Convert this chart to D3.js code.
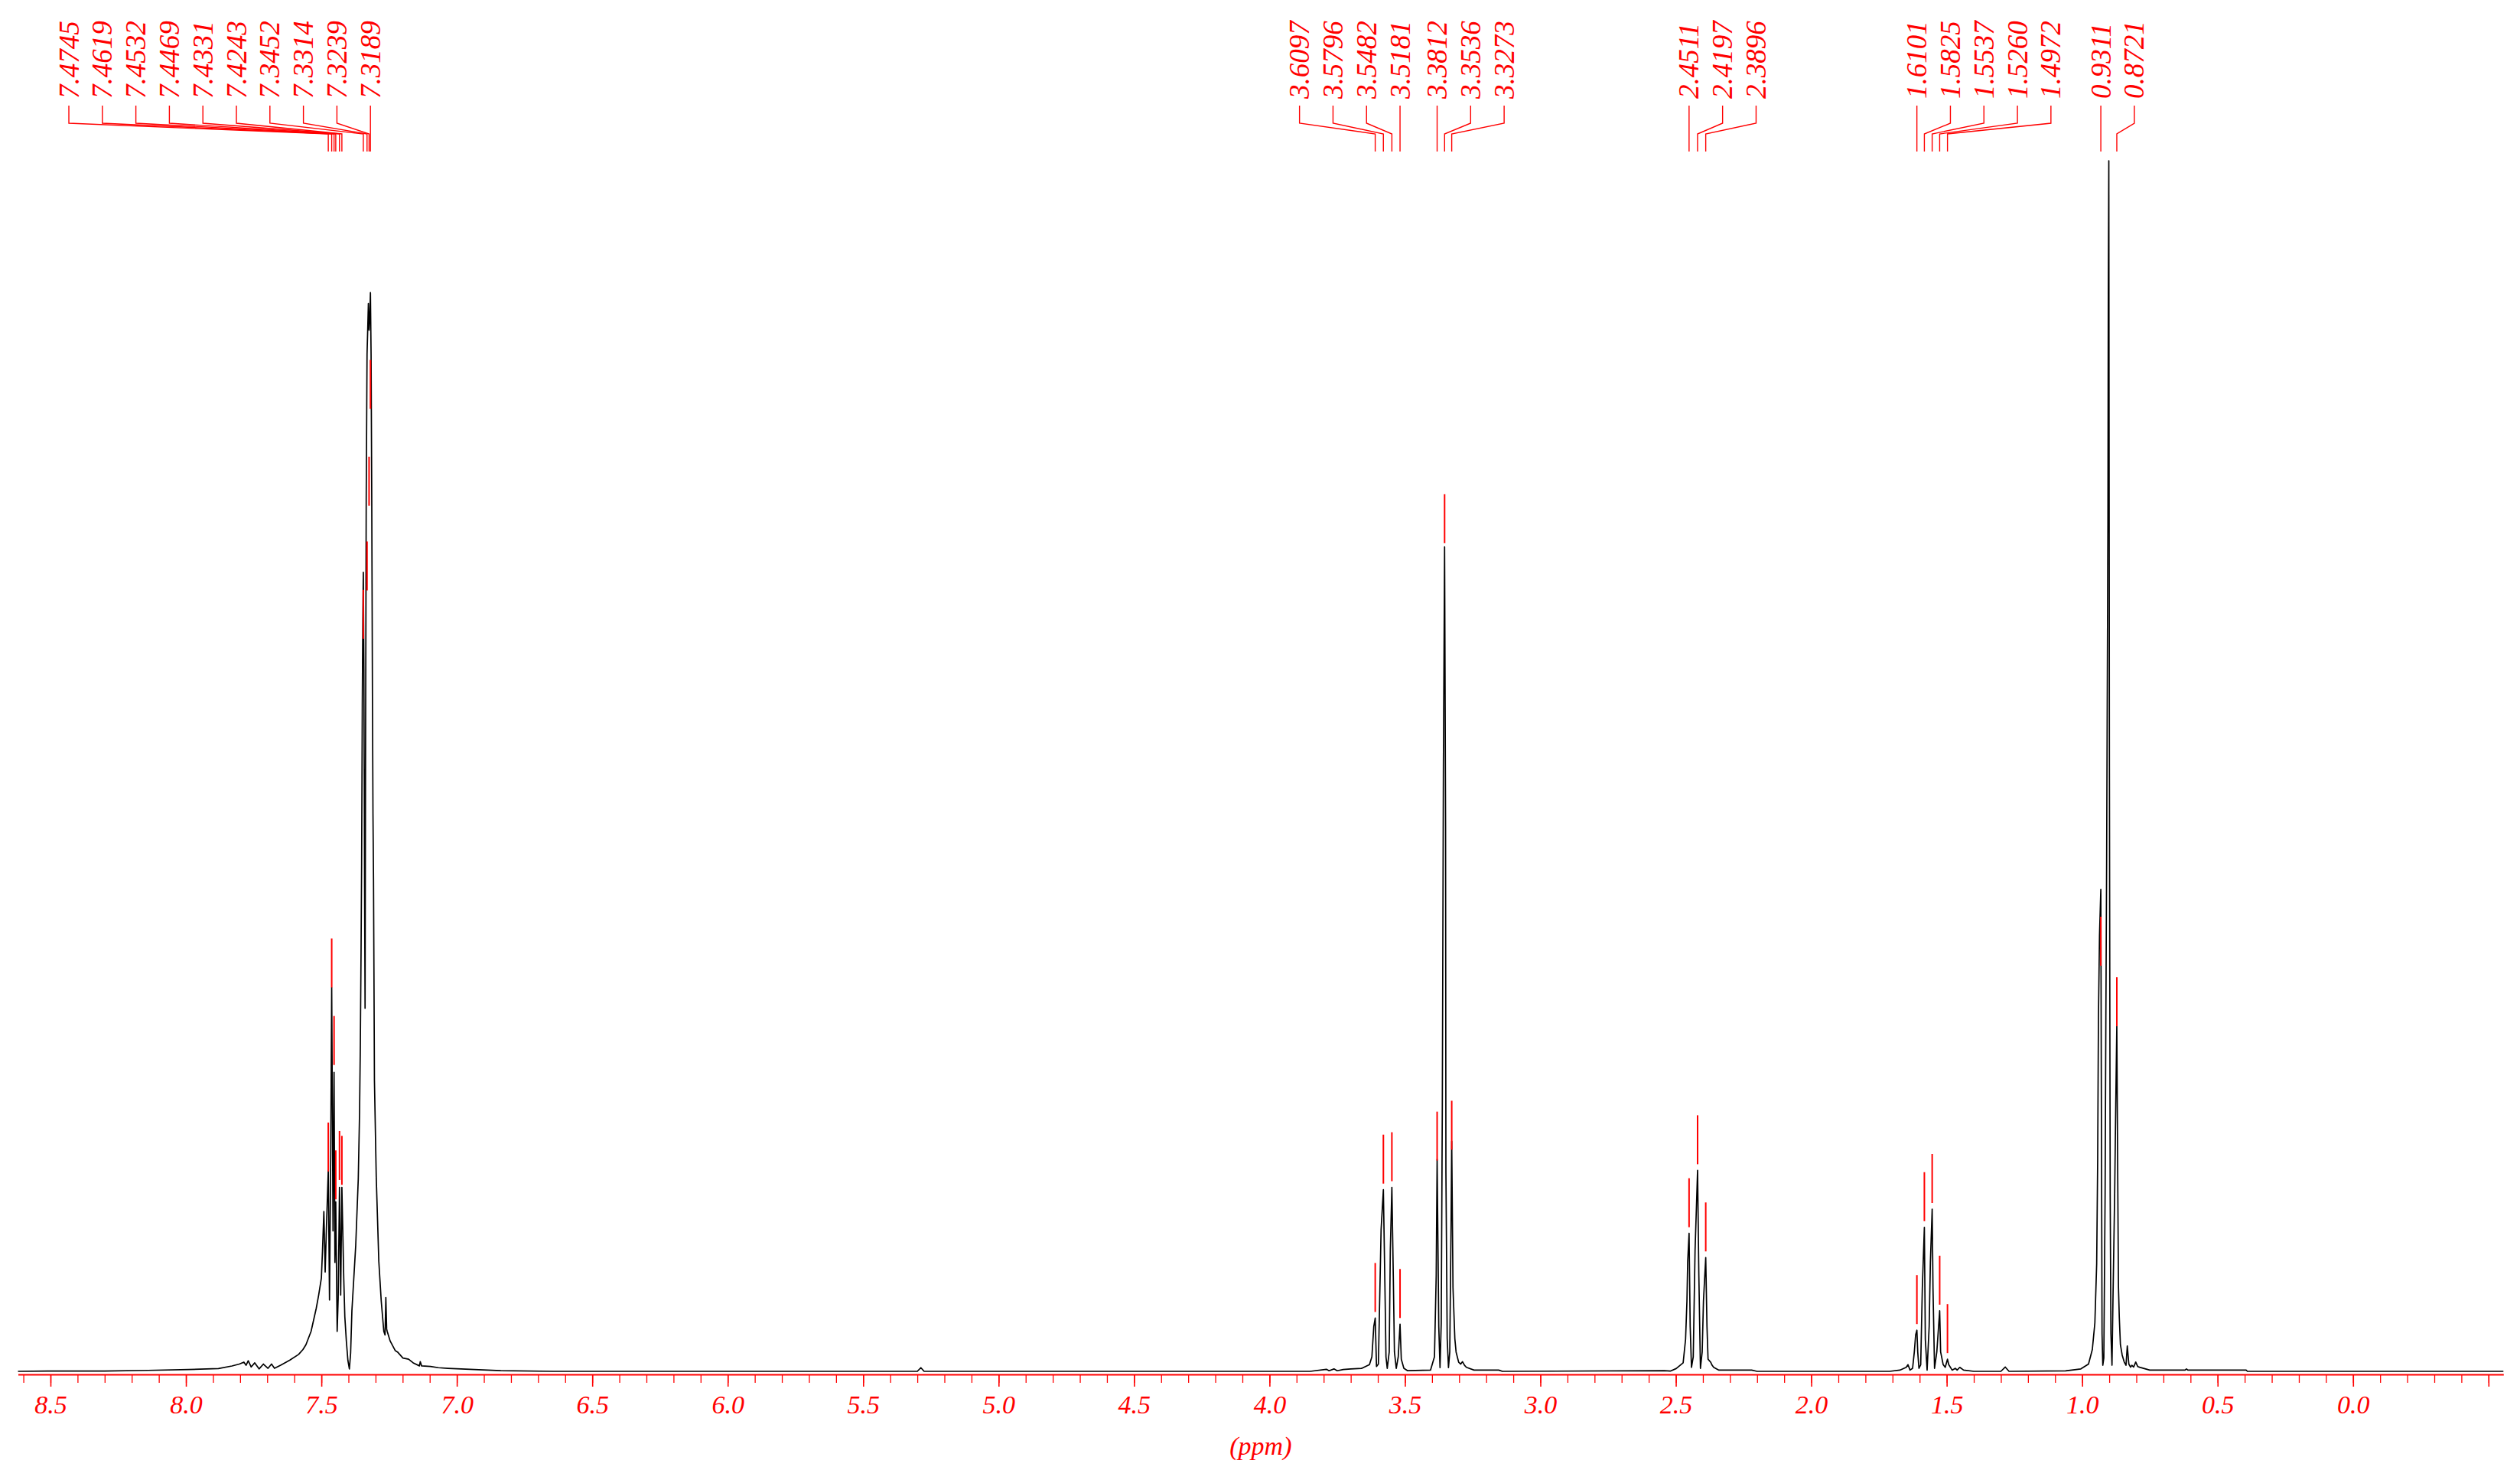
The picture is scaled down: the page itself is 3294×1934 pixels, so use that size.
<!DOCTYPE html>
<html>
<head>
<meta charset="utf-8">
<script src="https://cdn.jsdelivr.net/npm/d3@7"></script>
<style>
  body { margin: 0; background: #ffffff; }
  svg text { font-family: "Liberation Serif", "Times New Roman", serif; font-style: italic; fill: #ff0000; }
</style>
</head>
<body>
<div id="nmr"></div>
<script>
// spectrum trace: [ppm, intensity], tallest peak = 100
var aromaticTrace = [
  [8.62, 0], [8.51, 0.02], [8.30, 0.03], [8.14, 0.08], [7.99, 0.15], [7.88, 0.23],
  [7.83, 0.44], [7.803, 0.6], [7.786, 0.76], [7.778, 0.5], [7.770, 0.87], [7.759, 0.36],
  [7.746, 0.7], [7.730, 0.2], [7.714, 0.6], [7.697, 0.25], [7.684, 0.6], [7.673, 0.25],
  [7.649, 0.52], [7.616, 0.93], [7.584, 1.4], [7.568, 1.8], [7.557, 2.2], [7.538, 3.3],
  [7.519, 5.2], [7.510, 6.3], [7.500, 7.7], [7.496, 9.9], [7.4908, 13.2], [7.4860, 8.2],
  [7.4812, 12], [7.4745, 16.6], [7.4700, 5.9], [7.4654, 18], [7.4619, 31.7], [7.4570, 11.6],
  [7.4532, 24.7], [7.4500, 9], [7.4469, 14], [7.4417, 3.3], [7.4380, 6], [7.4331, 15.2],
  [7.4287, 6.3], [7.4243, 15.2], [7.4174, 7.7], [7.4134, 4.5], [7.4078, 2.5], [7.4021, 0.9],
  [7.3966, 0.2], [7.3920, 1.5], [7.3873, 5.0], [7.3732, 10.4], [7.3638, 15.9], [7.3590, 21.4],
  [7.3562, 26.9], [7.3534, 35], [7.3514, 42], [7.3490, 55], [7.3470, 62], [7.3452, 66],
  [7.3430, 58], [7.3405, 40], [7.3387, 30], [7.3370, 50], [7.3345, 72], [7.3314, 84],
  [7.3290, 86], [7.3265, 88.2], [7.3239, 86], [7.3215, 87], [7.3189, 89.1], [7.3165, 84],
  [7.3140, 72], [7.3115, 56], [7.3095, 46], [7.3075, 40.6], [7.3041, 24], [7.2974, 16],
  [7.2880, 9.1], [7.2790, 5.8], [7.2695, 3.3], [7.2650, 3.0], [7.2620, 6.1], [7.2590, 3.5],
  [7.2570, 3.3], [7.2460, 2.5], [7.2270, 1.7], [7.2190, 1.6], [7.1990, 1.1], [7.1780, 1.0],
  [7.1610, 0.7], [7.1380, 0.45], [7.1350, 0.8], [7.1300, 0.45], [7.0970, 0.4], [7.0680, 0.3],
  [7.0330, 0.25], [6.9350, 0.15], [6.8380, 0.06], [6.6440, 0], [5.300, 0], [5.287, 0.3],
  [5.275, 0]
];

var midTrace = [
  [3.85, 0], [3.79, 0.17], [3.78, 0.05], [3.762, 0.2], [3.75, 0.05], [3.728, 0.15],
  [3.70, 0.2], [3.659, 0.25], [3.631, 0.55], [3.622, 1.2], [3.615, 3.7], [3.6097, 4.4],
  [3.605, 0.4], [3.598, 0.6], [3.588, 11.7], [3.5796, 15.0], [3.573, 5.8], [3.570, 1.2],
  [3.5653, 0.25], [3.558, 1.6], [3.554, 10], [3.5482, 15.2], [3.5430, 7.9], [3.5388, 1.6],
  [3.532, 0.25], [3.5247, 1.2], [3.5181, 3.9], [3.5134, 1.0], [3.504, 0.25], [3.49, 0.05],
  [3.4056, 0.1], [3.391, 1.2], [3.3846, 7.9], [3.3812, 17.5], [3.3751, 3.7], [3.3705, 0.3],
  [3.3660, 4], [3.3620, 22], [3.3580, 50], [3.3536, 68.1], [3.3500, 45], [3.3487, 16.4],
  [3.344, 2.7], [3.3393, 0.3], [3.3345, 1.6], [3.3298, 12], [3.3273, 19], [3.3226, 6.9],
  [3.3158, 2.7], [3.3112, 1.6], [3.3016, 0.75], [3.2940, 0.6], [3.2875, 0.8], [3.2800, 0.5],
  [3.273, 0.33], [3.245, 0.1], [3.154, 0.1], [3.14, 0],
  [2.543, 0.05], [2.5205, 0.02], [2.4987, 0.23], [2.473, 0.7], [2.464, 2.65], [2.459, 5.8],
  [2.4563, 9], [2.4511, 11.4], [2.447, 3.7], [2.4422, 0.33], [2.4357, 1.2], [2.429, 10],
  [2.4197, 16.6], [2.415, 7.9], [2.4092, 0.25], [2.4027, 1.6], [2.398, 5.8], [2.3896, 9.4],
  [2.3850, 3.7], [2.381, 1.0], [2.3716, 0.76], [2.3660, 0.5], [2.3603, 0.33], [2.341, 0.1],
  [2.22, 0.1], [2.20, 0]
];

var aliphaticTrace = [
  [1.711, 0], [1.673, 0.1], [1.6495, 0.33], [1.643, 0.55], [1.6354, 0.1], [1.626, 0.25],
  [1.6196, 1.6], [1.6148, 3.0], [1.6101, 3.4], [1.607, 1.6], [1.6026, 0.25], [1.596, 0.55],
  [1.590, 6.9], [1.5825, 11.9], [1.579, 2.65], [1.5724, 0.1], [1.5648, 3.7], [1.5603, 9.0],
  [1.5537, 13.4], [1.5507, 6.9], [1.545, 0.25], [1.5366, 1.6], [1.5260, 5.0], [1.5225, 1.6],
  [1.513, 0.55], [1.5055, 0.33], [1.4972, 1.0], [1.4925, 0.55], [1.480, 0.1], [1.468, 0.25],
  [1.4615, 0.1], [1.4518, 0.33], [1.4377, 0.1], [1.40, 0], [1.30, 0], [1.2838, 0.35],
  [1.27, 0], [1.0613, 0.04], [1.0048, 0.2], [0.9766, 0.6], [0.9625, 1.8], [0.9531, 4.0],
  [0.9464, 8.9], [0.9427, 17.6], [0.9399, 29.2], [0.9360, 36], [0.9311, 39.8], [0.9294, 24.9],
  [0.9266, 3.1], [0.9238, 0.5], [0.920, 1.1], [0.9153, 14.7], [0.9125, 29.2], [0.9096, 42.3],
  [0.9050, 70], [0.9035, 89], [0.9016, 100], [0.8994, 50], [0.8966, 14.7], [0.8938, 3.1],
  [0.8899, 0.5], [0.8862, 6.0], [0.8800, 14.7], [0.8760, 22], [0.8721, 28.6], [0.8690, 17],
  [0.8660, 7], [0.8630, 4.5], [0.8588, 2.2], [0.8523, 1.35], [0.8447, 0.77], [0.8382, 0.5],
  [0.8334, 2.1], [0.8277, 0.6], [0.8212, 0.34], [0.8165, 0.5], [0.8100, 0.35], [0.8023, 0.77],
  [0.7950, 0.4], [0.7882, 0.34], [0.7506, 0.1], [0.62, 0.1], [0.615, 0.2], [0.61, 0.1],
  [0.3947, 0.1], [0.39, 0], [-0.555, 0]
];

// picked peaks, one array per label cluster, with the picked intensity of each
var aromaticPicks = [7.4745, 7.4619, 7.4532, 7.4469, 7.4331, 7.4243, 7.3452, 7.3314, 7.3239, 7.3189];
var aromaticPickHeights = [16.0, 31.2, 24.8, 13.7, 15.3, 14.9, 60, 64, 71, 79];
var ochPicks = [3.6097, 3.5796, 3.5482, 3.5181];
var ochPickHeights = [4.4, 15.0, 15.2, 3.9];
var methylPicks = [3.3812, 3.3536, 3.3273];
var methylPickHeights = [16.9, 67.9, 17.8];
var ch2Picks = [2.4511, 2.4197, 2.3896];
var ch2PickHeights = [11.4, 16.6, 9.4];
var sextetPicks = [1.6101, 1.5825, 1.5537, 1.5260, 1.4972];
var sextetPickHeights = [3.4, 11.9, 13.4, 5.0, 1.0];
var tripletPicks = [0.9311, 0.8721];
var tripletPickHeights = [33, 28];
// which label in each cluster sits straight above its peak
var clusterAnchor = [9, 3, 0, 0, 0, 0];

var majorTicks = [8.5, 8.0, 7.5, 7.0, 6.5, 6.0, 5.5, 5.0, 4.5, 4.0, 3.5, 3.0, 2.5, 2.0, 1.5, 1.0, 0.5, 0.0, -0.5];

var svgWidth = 3294;
var svgHeight = 1934;

var svg = d3.select("#nmr")
  .append("svg")
  .attr("width", svgWidth)
  .attr("height", svgHeight);

var spectrum = aromaticTrace.concat(midTrace, aliphaticTrace);

var xScale = d3.scaleLinear()
  .domain([8.62, -0.555])
  .range([23.5, 3272.3]);

var yScale = d3.scaleLinear()
  .domain([0, 100])
  .range([1792, 210]);

// axis: minor ticks every 0.1, major every 0.5
var axisY = 1796;
var minorTicks = d3.range(86, -6, -1).map(d => d / 10);
var fmt = d3.format(".1f");

svg.append("g")
  .attr("transform", `translate(0, ${axisY})`)
  .call(d3.axisBottom(xScale).tickValues(minorTicks).tickSize(11).tickFormat(""))
  .call(g => g.select(".domain").remove())
  .call(g => g.selectAll("line").attr("stroke", "#ff0000").attr("stroke-width", 1.3));

var majorAxis = svg.append("g")
  .attr("transform", `translate(0, ${axisY})`)
  .call(d3.axisBottom(xScale).tickValues(majorTicks).tickSize(16).tickSizeOuter(0)
    .tickFormat(d => d < -0.01 ? "" : fmt(d)));

majorAxis.select(".domain")
  .attr("stroke", "#ff0000")
  .attr("stroke-width", 2);
majorAxis.selectAll("line")
  .attr("stroke", "#ff0000")
  .attr("stroke-width", 1.6);
majorAxis.selectAll("text")
  .attr("y", 51)
  .attr("dy", 0)
  .attr("font-size", "34px")
  .attr("font-family", null)
  .attr("fill", "#ff0000");

svg.append("text")
  .attr("x", (xScale.range()[0] + xScale.range()[1]) / 2)
  .attr("y", 1901)
  .attr("text-anchor", "middle")
  .attr("font-size", "34px")
  .text("(ppm)");

// spectrum line
var line = d3.line()
  .x(d => xScale(d[0]))
  .y(d => yScale(d[1]));

svg.append("path")
  .datum(spectrum)
  .attr("d", line)
  .attr("fill", "none")
  .attr("stroke", "#000000")
  .attr("stroke-width", 1.7)
  .attr("stroke-linejoin", "round");

// peak markers above each picked peak
var clusters = [aromaticPicks, ochPicks, methylPicks, ch2Picks, sextetPicks, tripletPicks];
var clusterHeights = [aromaticPickHeights, ochPickHeights, methylPickHeights, ch2PickHeights, sextetPickHeights, tripletPickHeights];

var labelGap = 43.8;
var fmt4 = d3.format(".4f");
var labelRows = [];
clusters.forEach(function(picks, ci) {
  var anchorX = xScale(picks[clusterAnchor[ci]]);
  picks.forEach(function(p, i) {
    labelRows.push({
      ppm: p,
      h: clusterHeights[ci][i],
      lx: anchorX + (i - clusterAnchor[ci]) * labelGap
    });
  });
});

svg.selectAll(".marker")
  .data(labelRows)
  .enter()
  .append("line")
  .attr("class", "marker")
  .attr("x1", d => xScale(d.ppm))
  .attr("x2", d => xScale(d.ppm))
  .attr("y1", d => yScale(d.h) - 8)
  .attr("y2", d => yScale(d.h) - 72)
  .attr("stroke", "#ff0000")
  .attr("stroke-width", 2);

// peak labels with leader lines
var labels = svg.append("g");

labels.selectAll("polyline")
  .data(labelRows)
  .enter()
  .append("polyline")
  .attr("points", d => [[d.lx, 138], [d.lx, 161], [xScale(d.ppm), 175], [xScale(d.ppm), 198]].join(" "))
  .attr("fill", "none")
  .attr("stroke", "#ff0000")
  .attr("stroke-width", 1.4);

labels.selectAll("text")
  .data(labelRows)
  .enter()
  .append("text")
  .attr("transform", d => `translate(${d.lx + 12.5}, 129) rotate(-90)`)
  .attr("text-anchor", "start")
  .attr("font-size", "37px")
  .text(d => fmt4(d.ppm));
</script>
</body>
</html>
